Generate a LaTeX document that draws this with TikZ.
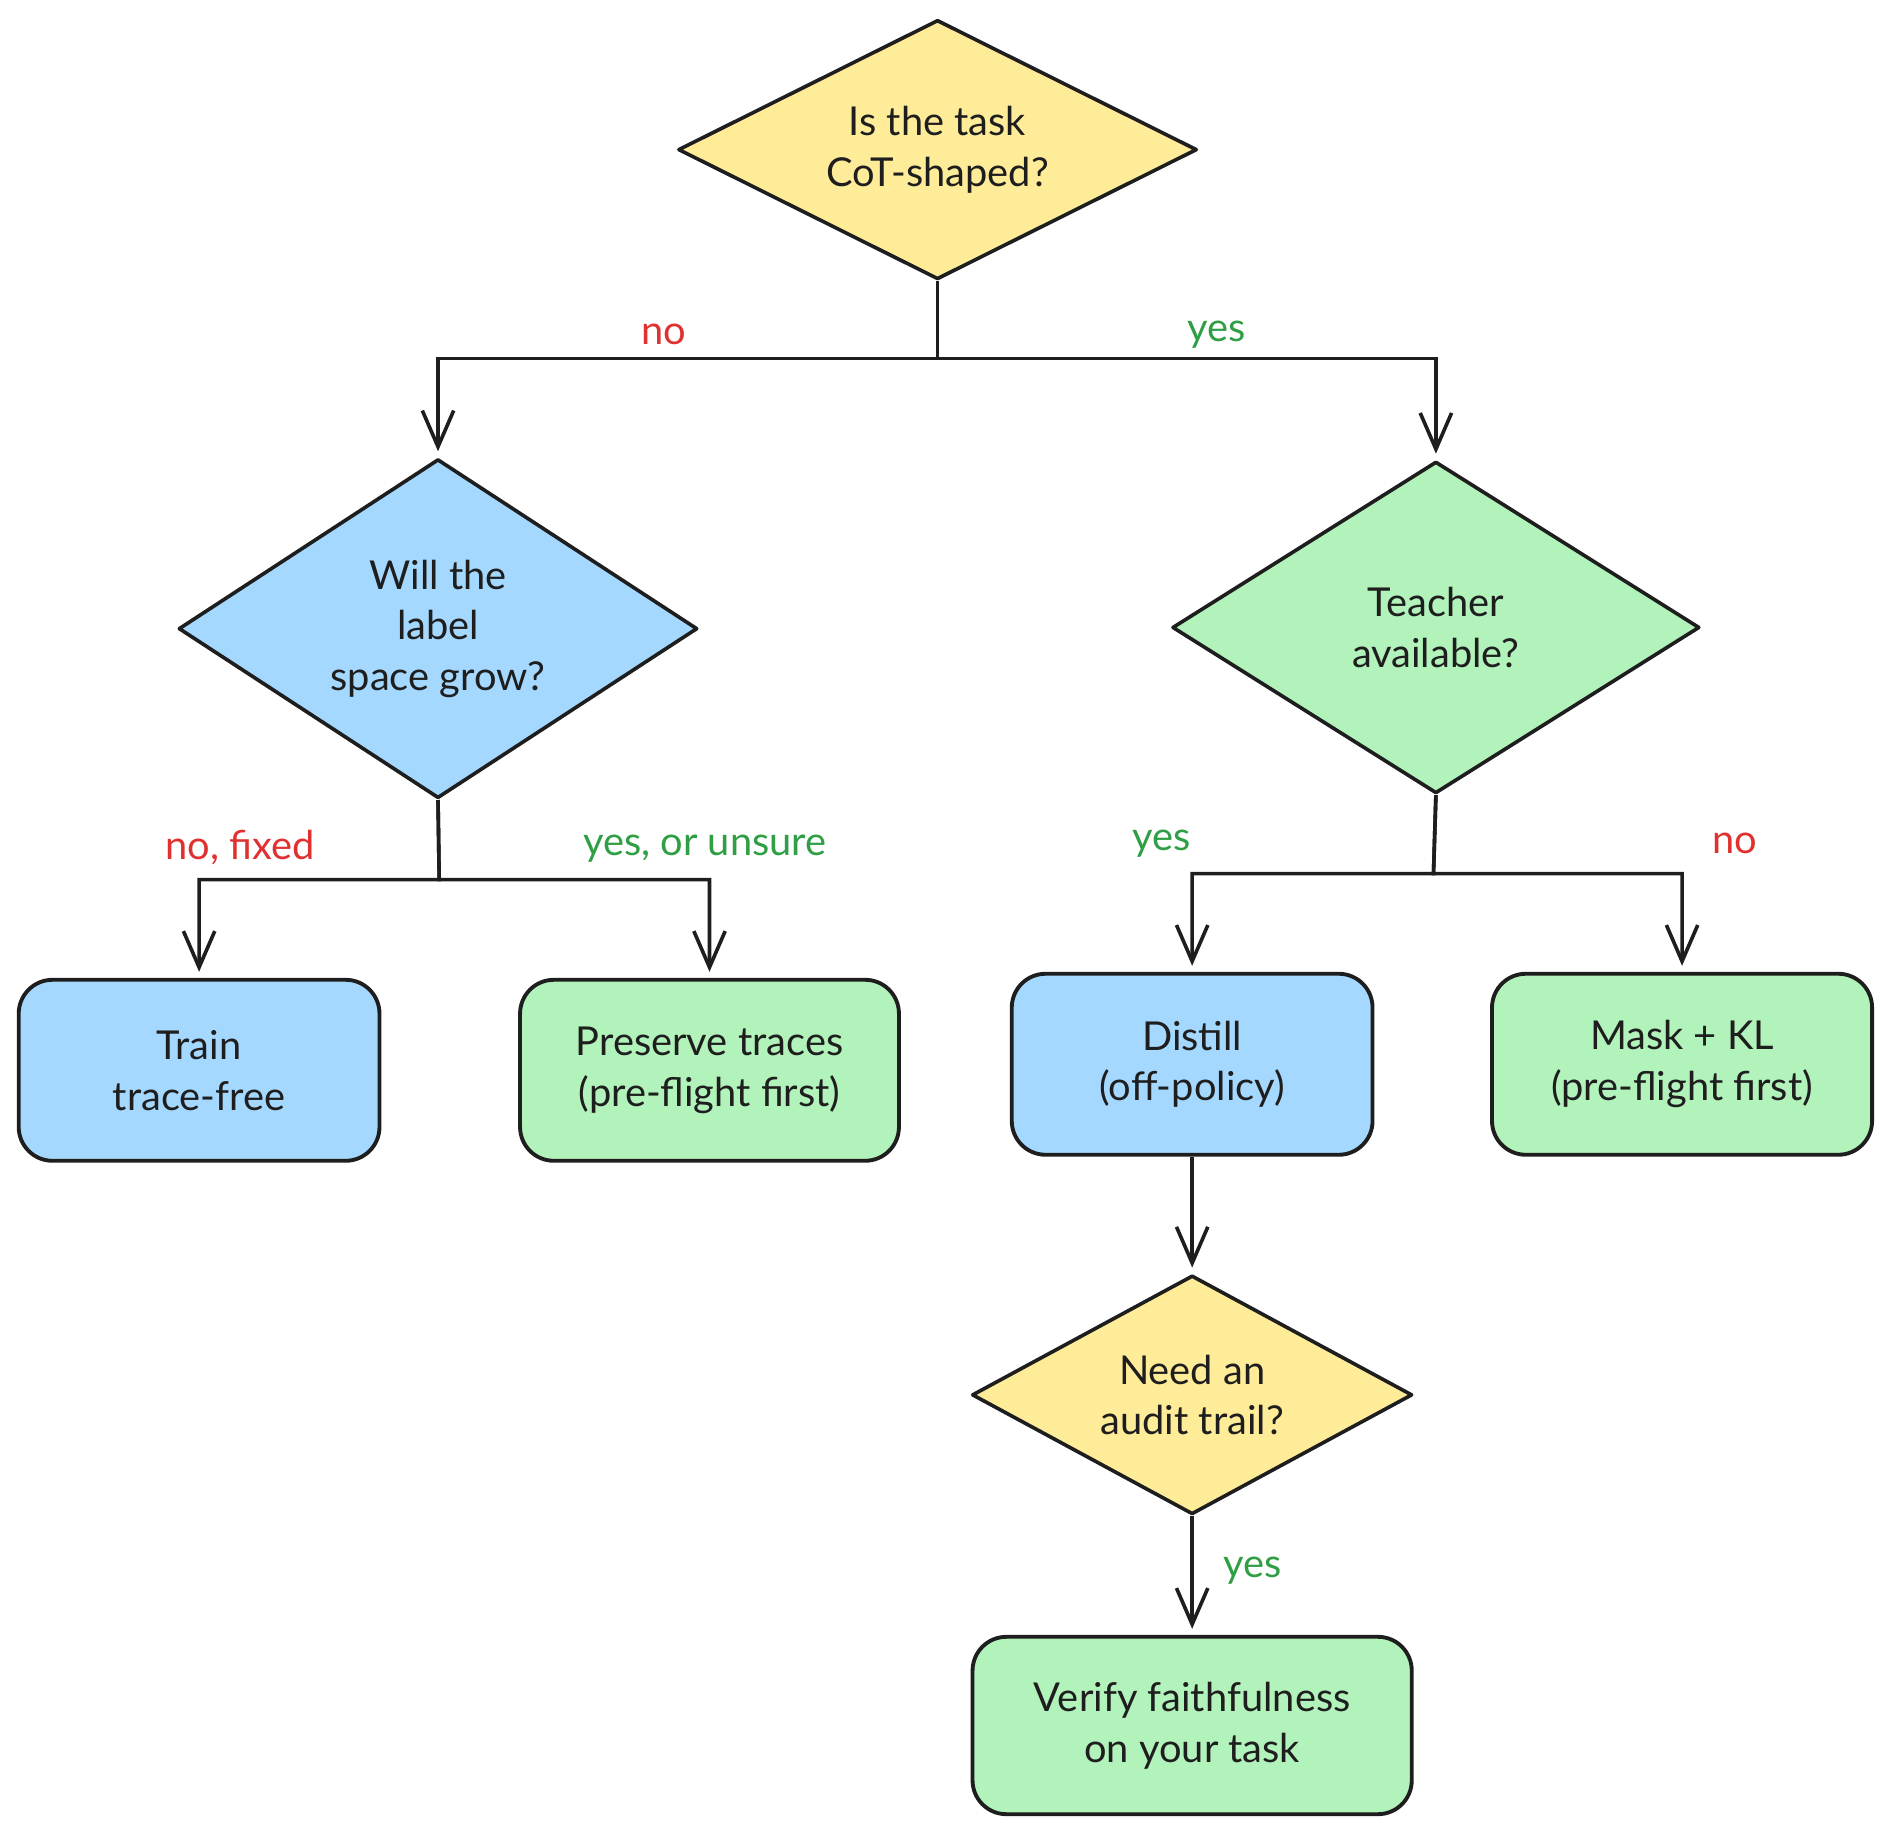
\documentclass[tikz,border=0pt]{standalone}
\usepackage{fontspec}
\setmainfont{Lato}
\usetikzlibrary{shapes.geometric,arrows.meta}
\definecolor{ink}{HTML}{1E1E1E}
\definecolor{fyellow}{HTML}{FFEC99}
\definecolor{fblue}{HTML}{A5D8FF}
\definecolor{fgreen}{HTML}{B2F2BB}
\definecolor{lred}{HTML}{E03131}
\definecolor{lgreen}{HTML}{2F9E44}
\begin{document}
\begin{tikzpicture}[x=1pt,y=-1pt,
  every node/.style={font=\fontsize{33}{42}\selectfont, text=ink},
  dia/.style={diamond, draw=ink, line width=3pt, inner sep=0pt, align=center, line join=round},
  box/.style={rectangle, draw=ink, line width=3.2pt, rounded corners=28pt, align=center, minimum width=299pt, minimum height=150pt},
  arr/.style={draw=ink, line width=3pt, -{Straight Barb[length=30pt,width=26pt]}, shorten >=5pt},
  lbl/.style={font=\fontsize{33}{40}\selectfont},
  nolbl/.style={lbl, text=lred},
  yeslbl/.style={lbl, text=lgreen}]
\useasboundingbox (0,0) rectangle (1568,1520);

\node[dia, fill=fyellow, aspect=2, minimum width=430pt, minimum height=215pt] (d1) at (777,124) {Is the task\\CoT-shaped?};
\node[dia, fill=fblue, aspect=1.53, minimum width=430pt, minimum height=281pt] (d2) at (363,521) {Will the\\label\\space grow?};
\node[dia, fill=fgreen, aspect=1.59, minimum width=437pt, minimum height=275pt] (d3) at (1190,520) {Teacher\\available?};
\node[dia, fill=fyellow, aspect=1.84, minimum width=365pt, minimum height=198pt] (d4) at (988,1156) {Need an\\audit trail?};

\node[box, fill=fblue] (train) at (165,887) {Train\\trace-free};
\node[box, fill=fgreen, minimum width=314pt] (preserve) at (588,887) {Preserve traces\\(pre-flight first)};
\node[box, fill=fblue] (distill) at (988,882) {Distill\\(off-policy)};
\node[box, fill=fgreen, minimum width=315pt] (mask) at (1394,882) {Mask + KL\\(pre-flight first)};
\node[box, fill=fgreen, minimum width=364pt, minimum height=147pt] (verify) at (988,1430) {Verify faithfulness\\on your task};

\coordinate (j1) at (777,297);
\coordinate (j2) at (364,729);
\coordinate (j3) at (1188,724);

\draw[arr] (d1.south) -- (j1) -| (d2.north);
\draw[arr] (d1.south) -- (j1) -| (d3.north);
\draw[arr] (d2.south) -- (j2) -| (train.north);
\draw[arr] (d2.south) -- (j2) -| (preserve.north);
\draw[arr] (d3.south) -- (j3) -| (distill.north);
\draw[arr] (d3.south) -- (j3) -| (mask.north);
\draw[arr] (distill.south) -- (d4.north);
\draw[arr] (d4.south) -- (verify.north);

\node[nolbl] (l1) at (550,277) {no};
\node[yeslbl] (l2) at (1008,277) {yes};
\node[nolbl] (l3) at (199,702) {no, fixed};
\node[yeslbl] (l4) at (584,703) {yes, or unsure};
\node[yeslbl] (l5) at (963,699) {yes};
\node[nolbl] (l6) at (1438,699) {no};
\node[yeslbl] (l7) at (1038,1302) {yes};
\end{tikzpicture}
\end{document}
